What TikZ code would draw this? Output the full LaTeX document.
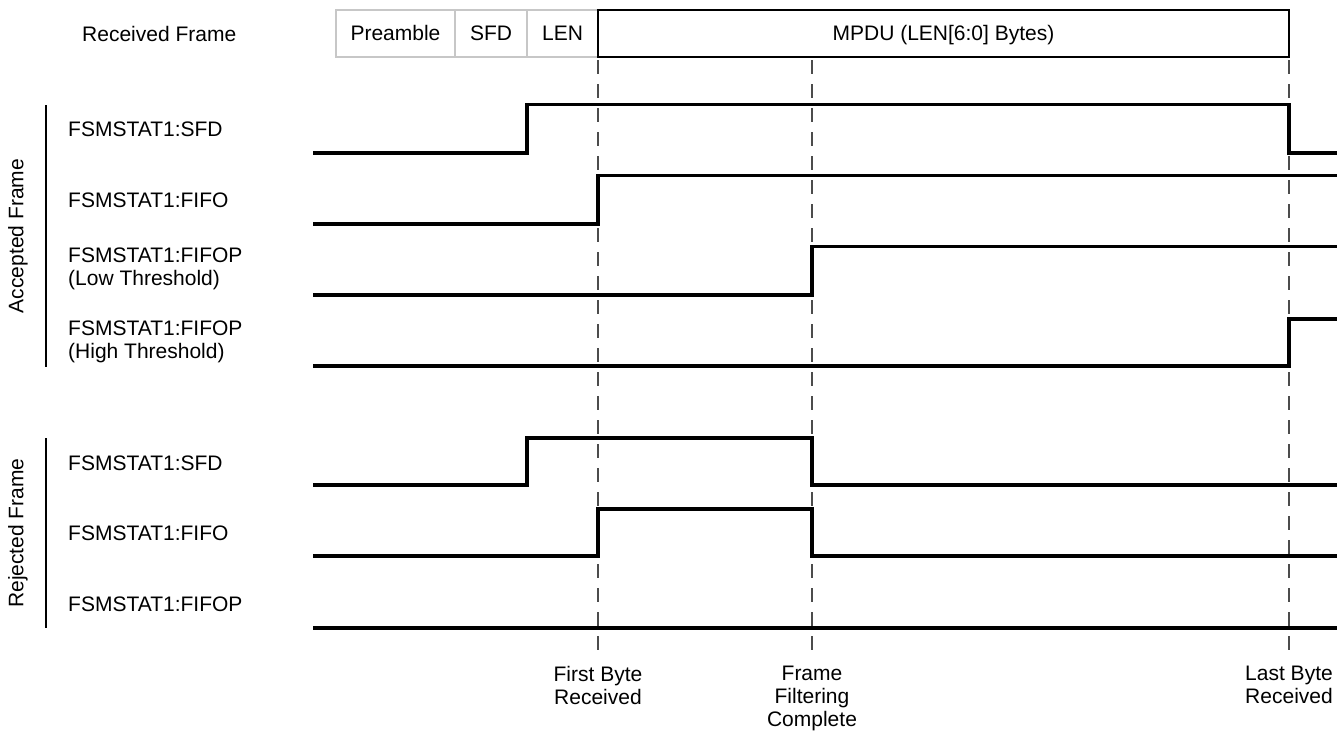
\documentclass[tikz,border=0pt]{standalone}
\usepackage{fontspec}
\setmainfont{Liberation Sans}
\begin{document}
\begin{tikzpicture}[x=1pt,y=-1pt,
  every node/.style={font=\fontsize{21}{22.8}\selectfont, inner sep=0pt},
  fieldbox/.style={draw=black!22, line width=2pt, minimum height=47pt, text height=16pt, text depth=2pt},
  mpdubox/.style={draw=black, line width=2.5pt, minimum height=47pt, text height=16pt, text depth=2pt},
  sig/.style={line width=3.4pt, line join=miter, line cap=butt},
  marker/.style={draw=black!70, line width=1.2pt, dash pattern=on 14pt off 10pt},
  lbl/.style={anchor=west, align=left},
  grouprule/.style={line width=1.2pt},
  evt/.style={align=center, anchor=north}]
\useasboundingbox (0,0) rectangle (1344,734);

% Received frame row
\node[anchor=west] (rf) at (82,33.5) {Received Frame};
\node[fieldbox, minimum width=119pt] (pre) at (395.5,33.5) {Preamble};
\node[fieldbox, minimum width=72pt] (sfd) at (491,33.5) {SFD};
\node[fieldbox, minimum width=71pt] (len) at (562.5,33.5) {LEN};
\node[mpdubox, minimum width=691pt] (mpdu) at (943.5,33.5) {MPDU (LEN[6:0] Bytes)};

% event markers
\coordinate (m1t) at (598,60); \coordinate (m1b) at (598,652);
\coordinate (m2t) at (812,60); \coordinate (m2b) at (812,652);
\coordinate (m3t) at (1289,60); \coordinate (m3b) at (1289,652);
\draw[marker] (m1t) -- (m1b);
\draw[marker] (m2t) -- (m2b);
\draw[marker] (m3t) -- (m3b);

% group labels
\coordinate (ga1) at (46,105); \coordinate (ga2) at (46,367);
\draw[grouprule] (ga1) -- (ga2);
\node[rotate=90] (acc) at (18,236) {Accepted Frame};
\coordinate (gr1) at (46,438); \coordinate (gr2) at (46,628);
\draw[grouprule] (gr1) -- (gr2);
\node[rotate=90] (rej) at (18,533) {Rejected Frame};

% signal labels
\node[lbl] (l1) at (68,129) {FSMSTAT1:SFD};
\node[lbl] (l2) at (68,200) {FSMSTAT1:FIFO};
\node[lbl] (l3) at (68,269) {FSMSTAT1:FIFOP\\(Low Threshold)};
\node[lbl] (l4) at (68,342) {FSMSTAT1:FIFOP\\(High Threshold)};
\node[lbl] (l5) at (68,463) {FSMSTAT1:SFD};
\node[lbl] (l6) at (68,533) {FSMSTAT1:FIFO};
\node[lbl] (l7) at (68,604) {FSMSTAT1:FIFOP};

% waveforms - accepted
\draw[sig] (313,153) -- (527,153) -- (527,104.5) -- (1289,104.5) -- (1289,153) -- (1337,153);
\draw[sig] (313,224) -- (598,224) -- (598,175.5) -- (1337,175.5);
\draw[sig] (313,295) -- (812,295) -- (812,246.5) -- (1337,246.5);
\draw[sig] (313,366) -- (1289,366) -- (1289,319) -- (1337,319);
% waveforms - rejected
\draw[sig] (313,485) -- (527,485) -- (527,438) -- (812,438) -- (812,485) -- (1337,485);
\draw[sig] (313,556) -- (598,556) -- (598,509) -- (812,509) -- (812,556) -- (1337,556);
\draw[sig] (313,628) -- (1337,628);

% event labels
\node[evt] (e1) at (598,666) {First Byte\\Received};
\node[evt] (e2) at (812,666) {Frame\\Filtering\\Complete};
\node[evt] (e3) at (1289,666) {Last Byte\\Received};
\end{tikzpicture}
\end{document}
